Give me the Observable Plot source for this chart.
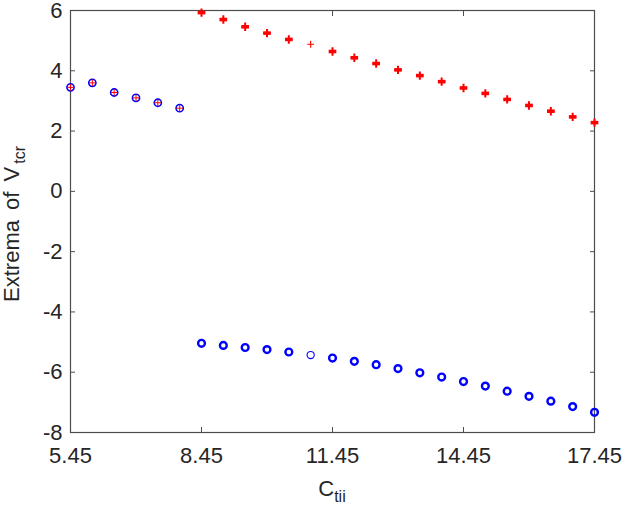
<!DOCTYPE html>
<html><head><meta charset="utf-8">
<script src="https://cdn.jsdelivr.net/npm/d3@7"></script>
<script src="https://cdn.jsdelivr.net/npm/@observablehq/plot@0.6"></script>
<style>body{margin:0;background:#fff} #chart{width:625px;height:510px}</style>
</head><body><div id="chart"></div>
<script>
// Low-C branch: maximum and minimum coincide
const xLow = [5.45, 5.95, 6.45, 6.95, 7.45, 7.95];
const extLow = [3.45, 3.60, 3.28, 3.10, 2.94, 2.76];
// High-C branch
const xHigh = [8.45, 8.95, 9.45, 9.95, 10.45, 10.95, 11.45, 11.95, 12.45, 12.95,
               13.45, 13.95, 14.45, 14.95, 15.45, 15.95, 16.45, 16.95, 17.45];
const maxHigh = [5.93, 5.70, 5.46, 5.25, 5.04, 4.88, 4.64, 4.43, 4.24, 4.03,
                 3.84, 3.64, 3.43, 3.25, 3.05, 2.85, 2.66, 2.47, 2.28];
const minHigh = [-5.04, -5.11, -5.18, -5.25, -5.33, -5.43, -5.53, -5.64, -5.75, -5.88,
                 -6.02, -6.16, -6.31, -6.46, -6.63, -6.80, -6.96, -7.14, -7.33];
// number of overlapping extrema recorded at each C value
const countHigh = [2, 2, 2, 2, 2, 1, 2, 2, 2, 2, 2, 2, 2, 2, 2, 2, 2, 2, 2];
const xTicks = [5.45, 8.45, 11.45, 14.45, 17.45];
const yTicks = [-8, -6, -4, -2, 0, 2, 4, 6];

const low = xLow.map((x, i) => ({x, y: extLow[i]}));
const hiMax = xHigh.map((x, i) => ({x, y: maxHigh[i], n: countHigh[i]}));
const hiMin = xHigh.map((x, i) => ({x, y: minHigh[i], n: countHigh[i]}));

const barSymbol = {draw(ctx) { ctx.rect(-3.8, -1.8, 7.6, 3.6); }};
const plusSymbol = {draw(ctx) { ctx.moveTo(-3.6, 0); ctx.lineTo(3.6, 0); ctx.moveTo(0, -4.2); ctx.lineTo(0, 4.2); }};
const plusThin = {draw(ctx) { ctx.moveTo(-3.4, 0); ctx.lineTo(3.4, 0); ctx.moveTo(0, -3.4); ctx.lineTo(0, 3.4); }};

const AX = "#4d4d4d", TX = "#262626";
const chart = Plot.plot({
  width: 625, height: 510,
  marginLeft: 70, marginRight: 31, marginTop: 10, marginBottom: 78,
  style: {fontFamily: "'Liberation Sans', Arial, sans-serif", fontSize: "22px", color: TX, background: "#fff", overflow: "visible"},
  x: {domain: [5.45, 17.45]},
  y: {domain: [-8, 6]},
  marks: [
    Plot.axisX(xTicks, {anchor: "bottom", tickSize: -5, tickPadding: 20, stroke: AX, fill: TX, label: null, tickFormat: d => d.toFixed(2)}),
    Plot.axisX(xTicks, {anchor: "top", tickSize: -5, stroke: AX, label: null, tickFormat: () => ""}),
    Plot.axisY(yTicks, {anchor: "left", tickSize: -5, tickPadding: 13, stroke: AX, fill: TX, label: null, tickFormat: d => String(d)}),
    Plot.axisY(yTicks, {anchor: "right", tickSize: -5, stroke: AX, label: null, tickFormat: () => ""}),
    Plot.frame({stroke: AX, strokeWidth: 1.2}),
    // low branch: blue circle with red plus
    Plot.dot(low, {x: "x", y: "y", r: 3.6, stroke: "#0000ff", strokeWidth: 1.6, fill: "none"}),
    Plot.dot(low, {x: "x", y: "y", symbol: plusThin, stroke: "#ff0000", strokeWidth: 1, fill: "none"}),
    // high branch minima
    Plot.dot(hiMin, {filter: d => d.n > 1, x: "x", y: "y", r: 3.4, stroke: "#0000ff", strokeWidth: 2.4, fill: "none"}),
    Plot.dot(hiMin, {filter: d => d.n === 1, x: "x", y: "y", r: 3.6, stroke: "#0000ff", strokeWidth: 1.1, fill: "none"}),
    // high branch maxima
    Plot.dot(hiMax, {filter: d => d.n > 1, x: "x", y: "y", symbol: plusSymbol, stroke: "#ff0000", strokeWidth: 2, fill: "none"}),
    Plot.dot(hiMax, {filter: d => d.n > 1, x: "x", y: "y", symbol: barSymbol, fill: "#ff0000", stroke: "none"}),
    Plot.dot(hiMax, {filter: d => d.n === 1, x: "x", y: "y", symbol: plusThin, stroke: "#ff0000", strokeWidth: 1.1, fill: "none"})
  ]
});
document.getElementById("chart").append(chart);

// axis labels with subscripts
const svg = d3.select(chart);
const xl = svg.append("text").attr("x", 332).attr("y", 496).attr("text-anchor", "middle")
  .attr("fill", TX).style("font-size", "22px");
xl.append("tspan").text("C");
xl.append("tspan").attr("dy", 6).style("font-size", "16px").text("tii");
const yl = svg.append("text").attr("transform", "translate(19,224) rotate(-90)").attr("text-anchor", "middle")
  .attr("fill", TX).style("font-size", "22px").style("word-spacing", "4px");
yl.append("tspan").text("Extrema of V");
yl.append("tspan").attr("dy", 6).attr("dx", 3).style("font-size", "16px").text("tcr");
</script>
</body></html>
